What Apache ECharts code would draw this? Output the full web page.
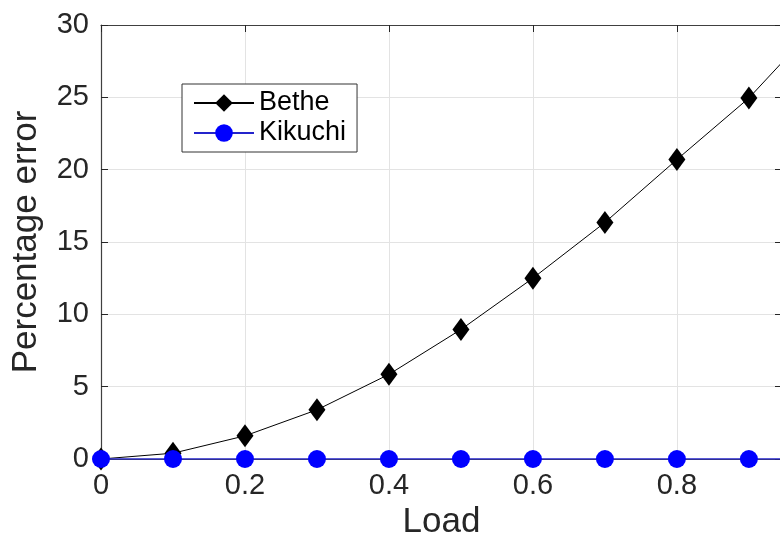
<!DOCTYPE html>
<html>
<head>
<meta charset="utf-8">
<title>Percentage error vs Load</title>
<script src="https://cdn.jsdelivr.net/npm/echarts@6/dist/echarts.min.js"></script>
<style>
    html, body { margin: 0; padding: 0; background: #fff; overflow: hidden; }
    #main { width: 780px; height: 542px; }
</style>
</head>
<body>
<div id="main"></div>
<script>
// data
var loadValues = [0, 0.1, 0.2, 0.3, 0.4, 0.5, 0.6, 0.7, 0.8, 0.9, 1.0];
var betheError = [0, 0.4, 1.6, 3.4, 5.85, 8.95, 12.5, 16.35, 20.7, 24.95, 30.3];
var kikuchiError = [0, 0, 0, 0, 0, 0, 0, 0, 0, 0, 0];
var seriesNames = ['Bethe', 'Kikuchi'];

var fontName = '"Liberation Sans", Arial, Helvetica, sans-serif';
var axisColor = '#262626';

//组装成 [x, y] 点
function toPoints(xs, ys) {
    var pts = [];
    for (var i = 0; i < xs.length; i++) {
        pts.push([xs[i], ys[i]]);
    }
    return pts;
}

var myChart = echarts.init(document.getElementById('main'));

var boxAxisLine = { show: true, onZero: false, lineStyle: { color: '#404040', width: 1.2 } };
var innerTick = { show: true, inside: true, length: 7, lineStyle: { color: axisColor } };

var option = {
    backgroundColor: '#ffffff',
    animation: false,
    textStyle: { fontFamily: fontName },
    grid: {
        left: 101,
        top: 25,
        width: 681,
        height: 434,
        outerBoundsMode: 'none'
    },
    legend: {
        orient: 'vertical',
        left: 182,
        top: 84,
        width: 150,
        padding: [4, 11, 4, 11],
        itemWidth: 60,
        itemHeight: 22,
        itemGap: 0,
        borderColor: '#333333',
        borderWidth: 1,
        backgroundColor: '#ffffff',
        textStyle: { fontSize: 27, color: '#000000', fontFamily: fontName, lineHeight: 30 },
        data: seriesNames
    },
    xAxis: [{
        type: 'value',
        min: 0,
        max: 0.946,
        interval: 0.2,
        name: 'Load',
        nameLocation: 'middle',
        nameGap: 43,
        nameTextStyle: { fontSize: 35, color: axisColor, fontFamily: fontName },
        axisLine: boxAxisLine,
        axisTick: innerTick,
        axisLabel: { fontSize: 29, color: axisColor, margin: 12, showMaxLabel: false, fontFamily: fontName },
        splitLine: { show: true, lineStyle: { color: '#e3e3e3', width: 1 } }
    }, {
        type: 'value',
        position: 'top',
        min: 0,
        max: 0.946,
        interval: 0.2,
        axisLine: boxAxisLine,
        axisTick: innerTick,
        axisLabel: { show: false },
        splitLine: { show: false }
    }],
    yAxis: [{
        type: 'value',
        min: 0,
        max: 30,
        interval: 5,
        name: 'Percentage error',
        nameLocation: 'middle',
        nameGap: 57,
        nameTextStyle: { fontSize: 35, color: axisColor, fontFamily: fontName },
        axisLine: boxAxisLine,
        axisTick: innerTick,
        axisLabel: { fontSize: 29, color: axisColor, margin: 12, fontFamily: fontName },
        splitLine: { show: true, lineStyle: { color: '#e3e3e3', width: 1 } }
    }, {
        type: 'value',
        position: 'right',
        min: 0,
        max: 30,
        interval: 5,
        axisLine: boxAxisLine,
        axisTick: innerTick,
        axisLabel: { show: false },
        splitLine: { show: false }
    }],
    series: [
        {
            name: seriesNames[0],
            type: 'line',
            clip: true,
            symbol: 'diamond',
            symbolSize: [17, 23],
            itemStyle: { color: '#000000' },
            lineStyle: { color: '#000000', width: 1 },
            data: toPoints(loadValues, betheError)
        },
        {
            name: seriesNames[1],
            type: 'line',
            clip: true,
            symbol: 'circle',
            symbolSize: 18,
            itemStyle: { color: '#0000ff' },
            lineStyle: { color: '#2424cc', width: 1.4 },
            data: toPoints(loadValues, kikuchiError)
        }
    ]
};

myChart.setOption(option);
</script>
</body>
</html>
